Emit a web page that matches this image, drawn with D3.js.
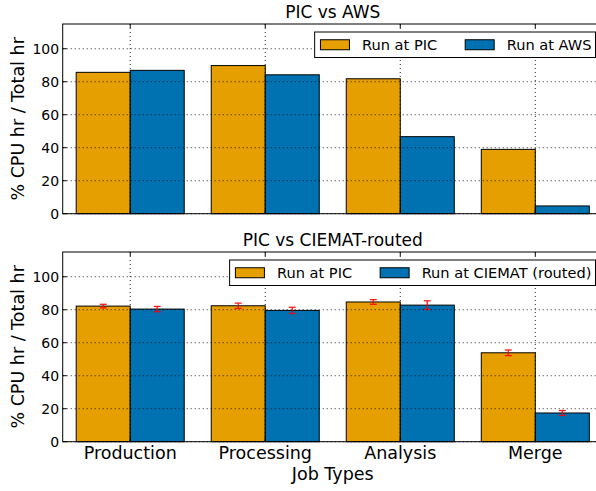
<!DOCTYPE html>
<html><head><meta charset="utf-8">
<script src="https://cdn.jsdelivr.net/npm/d3@7"></script>
<style>body{margin:0;background:#fff}svg{display:block}text{font-family:"DejaVu Sans",sans-serif;fill:#000}</style>
</head><body>
<script>
const categories = ["Production", "Processing", "Analysis", "Merge"];
const yTicks = [0, 20, 40, 60, 80, 100];

const topTitle = "PIC vs AWS";
const topSeriesNames = ["Run at PIC", "Run at AWS"];
const topPIC = [85.7, 89.8, 81.8, 39.0];
const topAWS = [86.9, 84.2, 46.7, 4.7];

const botTitle = "PIC vs CIEMAT-routed";
const botSeriesNames = ["Run at PIC", "Run at CIEMAT (routed)"];
const botPIC = [82.2, 82.4, 84.7, 53.9];
const botPICerr = [1.1, 1.6, 1.4, 1.7];
const botCIEMAT = [80.4, 79.6, 82.8, 17.4];
const botCIEMATerr = [1.6, 1.9, 2.6, 1.5];

const colors = ["#E69F00", "#0072B2"];
const W = 596, H = 491;
const svg = d3.select("body").append("svg").attr("width", W).attr("height", H);

const x = d3.scaleLinear().domain([-0.5, 3.5]).range([62.7, 602.8]);
const barW = 0.4;

function panel(top, bottom, title, names, s1, s2, e1, e2, showX) {
  const y = d3.scaleLinear().domain([0, 115]).range([bottom, top]);
  const g = svg.append("g");
  const series = [s1, s2];
  series.forEach((s, k) => {
    g.selectAll(null).data(s).enter().append("rect")
      .attr("x", (d, i) => x(i - barW + k * barW))
      .attr("width", x(barW) - x(0))
      .attr("y", d => y(d))
      .attr("height", d => y(0) - y(d))
      .attr("fill", colors[k]).attr("stroke", "#000").attr("stroke-width", 1);
  });
  [e1, e2].forEach((e, k) => {
    if (!e) return;
    const s = series[k];
    e.forEach((err, i) => {
      const cx = x(i - barW / 2 + k * barW);
      const eg = g.append("g").attr("stroke", "#ff0000").attr("stroke-width", 1.3).attr("opacity", 0.9);
      eg.append("line").attr("x1", cx).attr("x2", cx).attr("y1", y(s[i] - err)).attr("y2", y(s[i] + err));
      eg.append("line").attr("x1", cx - 3.5).attr("x2", cx + 3.5).attr("y1", y(s[i] - err)).attr("y2", y(s[i] - err));
      eg.append("line").attr("x1", cx - 3.5).attr("x2", cx + 3.5).attr("y1", y(s[i] + err)).attr("y2", y(s[i] + err));
    });
  });
  const grid = g.append("g").attr("stroke", "#000").attr("stroke-width", 1).attr("stroke-dasharray", "1,3").attr("opacity", 0.85);
  yTicks.forEach(t => grid.append("line").attr("x1", x(-0.5)).attr("x2", x(3.5)).attr("y1", y(t)).attr("y2", y(t)));
  categories.forEach((c, i) => grid.append("line").attr("x1", x(i)).attr("x2", x(i)).attr("y1", top).attr("y2", bottom));
  const tk = g.append("g").attr("stroke", "#000").attr("stroke-width", 1);
  yTicks.forEach(t => tk.append("line").attr("x1", x(-0.5)).attr("x2", x(-0.5) + 4).attr("y1", y(t)).attr("y2", y(t)));
  categories.forEach((c, i) => {
    tk.append("line").attr("x1", x(i)).attr("x2", x(i)).attr("y1", top).attr("y2", top + 4);
    tk.append("line").attr("x1", x(i)).attr("x2", x(i)).attr("y1", bottom).attr("y2", bottom - 4);
  });
  g.append("rect").attr("x", x(-0.5)).attr("y", top).attr("width", x(3.5) - x(-0.5)).attr("height", bottom - top)
    .attr("fill", "none").attr("stroke", "#000").attr("stroke-width", 1);
  g.selectAll(null).data(yTicks).enter().append("text")
    .attr("x", x(-0.5) - 3.5).attr("y", d => y(d)).attr("dy", "0.36em")
    .attr("text-anchor", "end").attr("font-size", "14px").text(d => d);
  g.append("text").attr("transform", `translate(24,${(top + bottom) / 2}) rotate(-90)`)
    .attr("text-anchor", "middle").attr("font-size", "17.5px").text("% CPU hr / Total hr");
  g.append("text").attr("x", (x(-0.5) + x(3.5)) / 2).attr("y", top - 6)
    .attr("text-anchor", "middle").attr("font-size", "17px").text(title);
  if (showX) {
    g.selectAll(null).data(categories).enter().append("text")
      .attr("x", (d, i) => x(i)).attr("y", bottom + 17.5)
      .attr("text-anchor", "middle").attr("font-size", "17.5px").text(d => d);
    g.append("text").attr("x", (x(-0.5) + x(3.5)) / 2).attr("y", 480)
      .attr("text-anchor", "middle").attr("font-size", "17.5px").text("Job Types");
  }
  const lg = svg.append("g");
  const box = lg.append("rect").attr("fill", "#fff").attr("stroke", "#000").attr("stroke-width", 1);
  const right = 595.5, ly = top + 8, lh = 25.5, pad = 5.8, pw = 29, gap = 12.5, colgap = 28;
  const texts = names.map(n => lg.append("text").attr("font-size", "14.6px").attr("dy", "0.36em").attr("y", ly + lh / 2).text(n));
  const widths = texts.map(t => t.node().getComputedTextLength());
  const totalW = pad + pw + gap + widths[0] + colgap + pw + gap + widths[1] + 4;
  let cx = right - totalW;
  box.attr("x", cx).attr("y", ly).attr("width", totalW).attr("height", lh);
  cx += pad;
  names.forEach((n, k) => {
    lg.append("rect").attr("x", cx).attr("y", ly + lh / 2 - 5).attr("width", pw).attr("height", 10)
      .attr("fill", colors[k]).attr("stroke", "#000").attr("stroke-width", 1);
    cx += pw + gap;
    texts[k].attr("x", cx);
    cx += widths[k] + colgap;
  });
}

panel(24, 213.7, topTitle, topSeriesNames, topPIC, topAWS, null, null, false);
panel(252, 441.7, botTitle, botSeriesNames, botPIC, botCIEMAT, botPICerr, botCIEMATerr, true);
</script>
</body></html>
